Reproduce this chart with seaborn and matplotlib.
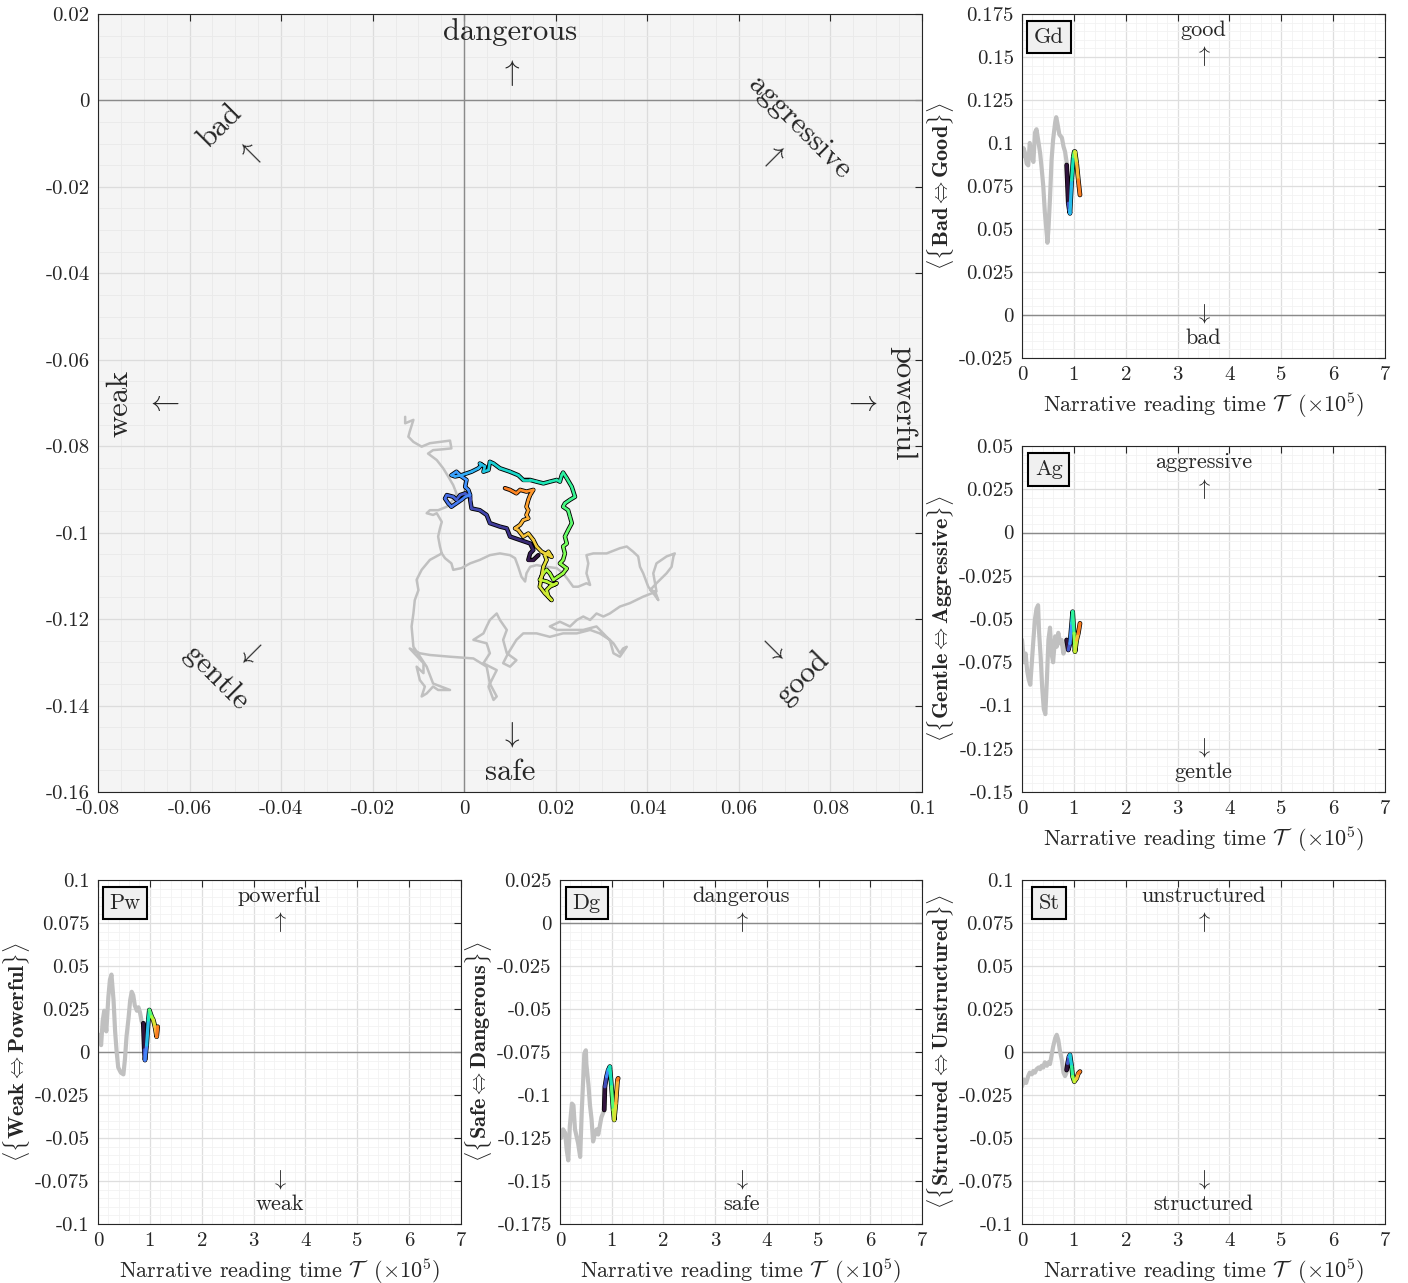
import numpy as np
import matplotlib
matplotlib.use("Agg")
import matplotlib.pyplot as plt
import seaborn as sns
from matplotlib.collections import LineCollection
from matplotlib.ticker import MultipleLocator, FuncFormatter

# ---------------- data ----------------
# main panel: grey trajectory (x = Weak<->Powerful, y = Safe<->Dangerous)
grey_pw = [-0.0129, -0.0129, -0.0111, -0.0119, -0.0122, -0.0111, -0.0093, -0.0075, -0.0053, -0.0031,
           -0.0028, -0.0046, -0.0068, -0.0079, -0.0060, -0.0046, -0.0035, -0.0024, -0.0017, -0.0024,
           -0.0038, -0.0057, -0.0075, -0.0082, -0.0068, -0.0060, -0.0049, -0.0053, -0.0057, -0.0053,
           -0.0049, -0.0042, -0.0028, -0.0024, -0.0006, 0.0013, 0.0034, 0.0056, 0.0078, 0.0100,
           0.0111, 0.0118, 0.0125, 0.0133, 0.0136, 0.0144, 0.0158, 0.0180, 0.0202, 0.0216,
           0.0227, 0.0238, 0.0249, 0.0267, 0.0275, 0.0267, 0.0271, 0.0267, 0.0282, 0.0311,
           0.0340, 0.0355, 0.0369, 0.0380, 0.0384, 0.0391, 0.0402, 0.0413, 0.0424, 0.0417,
           0.0406, 0.0420, 0.0442, 0.0453, 0.0457, 0.0460, 0.0442, 0.0420, 0.0413, 0.0420,
           0.0391, 0.0362, 0.0340, 0.0318, 0.0304, 0.0289, 0.0275, 0.0260, 0.0246, 0.0231,
           0.0209, 0.0187, 0.0202, 0.0231, 0.0260, 0.0289, 0.0311, 0.0326, 0.0340, 0.0347,
           0.0355, 0.0340, 0.0326, 0.0318, 0.0296, 0.0275, 0.0246, 0.0216, 0.0187, 0.0158,
           0.0129, 0.0114, 0.0096, 0.0085, 0.0100, 0.0114, 0.0093, 0.0085, 0.0093, 0.0078,
           0.0071, 0.0056, 0.0049, 0.0042, 0.0020, 0.0049, 0.0056, 0.0042, 0.0056, 0.0071,
           0.0064, 0.0053, 0.0064, 0.0071, 0.0056, 0.0049, 0.0020, -0.0031, -0.0075, -0.0097,
           -0.0119, -0.0089, -0.0089, -0.0104, -0.0097, -0.0086, -0.0093, -0.0082, -0.0068, -0.0057,
           -0.0031, -0.0068, -0.0082, -0.0111, -0.0115, -0.0111, -0.0108, -0.0100, -0.0104, -0.0093,
           -0.0075, -0.0049]
grey_dg = [-0.0732, -0.0747, -0.0739, -0.0766, -0.0778, -0.0790, -0.0801, -0.0793, -0.0790, -0.0787,
           -0.0805, -0.0807, -0.0809, -0.0817, -0.0832, -0.0851, -0.0870, -0.0890, -0.0909, -0.0924,
           -0.0940, -0.0948, -0.0948, -0.0955, -0.0959, -0.0955, -0.0975, -0.0990, -0.1009, -0.1032,
           -0.1048, -0.1059, -0.1071, -0.1086, -0.1082, -0.1071, -0.1063, -0.1052, -0.1048, -0.1052,
           -0.1059, -0.1079, -0.1102, -0.1113, -0.1094, -0.1079, -0.1075, -0.1079, -0.1082, -0.1094,
           -0.1109, -0.1125, -0.1125, -0.1117, -0.1121, -0.1094, -0.1071, -0.1052, -0.1048, -0.1048,
           -0.1036, -0.1032, -0.1044, -0.1055, -0.1079, -0.1094, -0.1125, -0.1140, -0.1156, -0.1136,
           -0.1133, -0.1117, -0.1094, -0.1079, -0.1055, -0.1048, -0.1055, -0.1071, -0.1094, -0.1136,
           -0.1148, -0.1163, -0.1171, -0.1187, -0.1194, -0.1187, -0.1202, -0.1194, -0.1202, -0.1217,
           -0.1206, -0.1217, -0.1225, -0.1225, -0.1225, -0.1217, -0.1241, -0.1256, -0.1279, -0.1268,
           -0.1264, -0.1287, -0.1279, -0.1248, -0.1233, -0.1225, -0.1233, -0.1233, -0.1241, -0.1233,
           -0.1233, -0.1248, -0.1279, -0.1302, -0.1310, -0.1295, -0.1279, -0.1248, -0.1225, -0.1202,
           -0.1187, -0.1202, -0.1217, -0.1233, -0.1248, -0.1256, -0.1279, -0.1302, -0.1310, -0.1318,
           -0.1333, -0.1356, -0.1387, -0.1379, -0.1349, -0.1310, -0.1291, -0.1287, -0.1283, -0.1279,
           -0.1268, -0.1302, -0.1325, -0.1310, -0.1341, -0.1356, -0.1379, -0.1372, -0.1356, -0.1364,
           -0.1364, -0.1349, -0.1310, -0.1264, -0.1217, -0.1187, -0.1156, -0.1133, -0.1109, -0.1086,
           -0.1063, -0.1048]

# main panel: coloured (recent) trajectory, in time order
col_pw = [0.0162, 0.0151, 0.0140, 0.0144, 0.0151, 0.0144, 0.0122, 0.0100, 0.0093, 0.0078,
          0.0056, 0.0049, 0.0034, 0.0016, 0.0013, 0.0013, 0.0002, -0.0009, -0.0017, -0.0024,
          -0.0038, -0.0042, -0.0035, -0.0028, -0.0017, -0.0006, 0.0002, 0.0013, 0.0009, 0.0002,
          0.0005, -0.0006, -0.0017, -0.0028, -0.0020, -0.0006, 0.0005, 0.0016, 0.0031, 0.0038,
          0.0034, 0.0045, 0.0042, 0.0053, 0.0056, 0.0064, 0.0078, 0.0100, 0.0118, 0.0129,
          0.0144, 0.0158, 0.0173, 0.0187, 0.0202, 0.0209, 0.0213, 0.0216, 0.0224, 0.0235,
          0.0242, 0.0231, 0.0220, 0.0216, 0.0227, 0.0231, 0.0235, 0.0227, 0.0220, 0.0224,
          0.0216, 0.0220, 0.0216, 0.0209, 0.0224, 0.0216, 0.0205, 0.0195, 0.0187, 0.0180,
          0.0173, 0.0165, 0.0180, 0.0195, 0.0202, 0.0187, 0.0180, 0.0184, 0.0191, 0.0176,
          0.0165, 0.0169, 0.0173, 0.0180, 0.0176, 0.0184, 0.0191, 0.0169, 0.0158, 0.0151,
          0.0140, 0.0129, 0.0118, 0.0111, 0.0122, 0.0129, 0.0140, 0.0136, 0.0140, 0.0136,
          0.0140, 0.0144, 0.0151, 0.0136, 0.0122, 0.0114, 0.0100, 0.0089]
col_dg = [-0.1052, -0.1063, -0.1063, -0.1048, -0.1040, -0.1025, -0.1017, -0.1009, -0.0990, -0.0986,
          -0.0978, -0.0959, -0.0948, -0.0944, -0.0924, -0.0917, -0.0909, -0.0913, -0.0924, -0.0917,
          -0.0913, -0.0921, -0.0932, -0.0940, -0.0932, -0.0924, -0.0917, -0.0913, -0.0901, -0.0894,
          -0.0878, -0.0870, -0.0859, -0.0867, -0.0870, -0.0867, -0.0863, -0.0859, -0.0851, -0.0843,
          -0.0840, -0.0847, -0.0859, -0.0855, -0.0836, -0.0840, -0.0851, -0.0859, -0.0867, -0.0878,
          -0.0878, -0.0882, -0.0886, -0.0882, -0.0878, -0.0882, -0.0867, -0.0861, -0.0874, -0.0894,
          -0.0917, -0.0924, -0.0932, -0.0940, -0.0948, -0.0963, -0.0978, -0.0994, -0.1009, -0.1025,
          -0.1032, -0.1048, -0.1063, -0.1071, -0.1083, -0.1094, -0.1102, -0.1109, -0.1094, -0.1086,
          -0.1094, -0.1109, -0.1113, -0.1121, -0.1117, -0.1125, -0.1133, -0.1148, -0.1156, -0.1140,
          -0.1125, -0.1102, -0.1079, -0.1063, -0.1052, -0.1044, -0.1056, -0.1044, -0.1032, -0.1017,
          -0.1002, -0.1009, -0.0994, -0.0990, -0.0982, -0.0971, -0.0967, -0.0959, -0.0948, -0.0940,
          -0.0924, -0.0913, -0.0901, -0.0905, -0.0901, -0.0909, -0.0901, -0.0897]

# time series panels (time in units of 1e5)
gd_t = [0.00, 0.03, 0.06, 0.09, 0.12, 0.15, 0.19, 0.22, 0.25, 0.28, 0.32, 0.35, 0.38, 0.41, 0.44,
        0.48, 0.49, 0.51, 0.54, 0.57, 0.60, 0.64, 0.66, 0.68, 0.72, 0.77, 0.80, 0.83, 0.87]
gd_v = [0.092, 0.097, 0.094, 0.088, 0.087, 0.100, 0.092, 0.089, 0.106, 0.108, 0.100, 0.094, 0.085,
        0.075, 0.060, 0.046, 0.042, 0.050, 0.068, 0.090, 0.102, 0.112, 0.115, 0.112, 0.105, 0.103,
        0.098, 0.095, 0.087]
gd_ct = [0.861, 0.893, 0.913, 0.925, 0.958, 0.990, 1.009, 1.022, 1.054, 1.086, 1.118]
gd_cv = [0.0872, 0.0649, 0.0610, 0.0591, 0.0785, 0.0921, 0.0950, 0.0950, 0.0882, 0.0785, 0.0698]

ag_t = [0.00, 0.04, 0.07, 0.10, 0.13, 0.16, 0.19, 0.22, 0.25, 0.28, 0.31, 0.33, 0.36, 0.39, 0.42,
        0.45, 0.48, 0.51, 0.54, 0.57, 0.60, 0.64, 0.67, 0.70, 0.73, 0.76, 0.80, 0.83, 0.86]
ag_v = [-0.062, -0.075, -0.070, -0.080, -0.085, -0.088, -0.075, -0.062, -0.050, -0.044, -0.042,
        -0.058, -0.072, -0.090, -0.102, -0.105, -0.085, -0.062, -0.055, -0.070, -0.075, -0.060,
        -0.066, -0.058, -0.064, -0.062, -0.070, -0.066, -0.062]
ag_ct = [0.861, 0.893, 0.925, 0.958, 0.977, 1.003, 1.022, 1.054, 1.086, 1.118]
ag_cv = [-0.0621, -0.0679, -0.0641, -0.0525, -0.0458, -0.0583, -0.0689, -0.0621, -0.0583, -0.0525]

pw_t = [0.02, 0.06, 0.09, 0.12, 0.16, 0.20, 0.23, 0.26, 0.30, 0.33, 0.36, 0.39, 0.44, 0.49, 0.52,
        0.55, 0.59, 0.62, 0.65, 0.68, 0.71, 0.75, 0.78, 0.81, 0.84, 0.87]
pw_v = [0.010, 0.004, 0.018, 0.024, 0.012, 0.032, 0.042, 0.045, 0.030, 0.012, 0.000, -0.009,
        -0.012, -0.013, -0.004, 0.009, 0.020, 0.030, 0.035, 0.033, 0.027, 0.024, 0.026, 0.023,
        0.018, 0.016]
pw_ct = [0.874, 0.893, 0.906, 0.938, 0.971, 0.990, 1.035, 1.067, 1.099, 1.131, 1.151]
pw_cv = [0.0167, 0.0012, -0.0047, 0.0040, 0.0186, 0.0244, 0.0205, 0.0186, 0.0147, 0.0089, 0.0147]

dg_t = [0.02, 0.06, 0.10, 0.13, 0.16, 0.19, 0.23, 0.26, 0.29, 0.32, 0.35, 0.39, 0.42, 0.45, 0.47,
        0.50, 0.51, 0.55, 0.58, 0.61, 0.64, 0.68, 0.71, 0.74, 0.77, 0.80, 0.84]
dg_v = [-0.125, -0.120, -0.122, -0.132, -0.138, -0.118, -0.105, -0.106, -0.120, -0.124, -0.128,
        -0.136, -0.110, -0.090, -0.076, -0.074, -0.082, -0.094, -0.106, -0.114, -0.127, -0.122,
        -0.120, -0.123, -0.118, -0.113, -0.110]
dg_ct = [0.855, 0.868, 0.900, 0.932, 0.964, 0.996, 1.028, 1.048, 1.080, 1.112, 1.125]
dg_cv = [-0.1087, -0.0952, -0.0893, -0.0855, -0.0835, -0.0952, -0.1087, -0.1145, -0.1048, -0.0913,
         -0.0903]

st_t = [0.00, 0.04, 0.08, 0.12, 0.15, 0.19, 0.22, 0.25, 0.28, 0.32, 0.35, 0.38, 0.41, 0.44, 0.48,
        0.51, 0.54, 0.57, 0.60, 0.64, 0.67, 0.70, 0.73, 0.77, 0.80, 0.83, 0.86]
st_v = [-0.020, -0.016, -0.018, -0.014, -0.012, -0.013, -0.011, -0.012, -0.010, -0.009, -0.010,
        -0.008, -0.009, -0.006, -0.008, -0.006, -0.007, -0.002, 0.003, 0.008, 0.010, 0.007, 0.001,
        -0.005, -0.012, -0.014, -0.012]
st_ct = [0.861, 0.880, 0.906, 0.925, 0.958, 0.977, 1.009, 1.054, 1.086, 1.118]
st_cv = [-0.0105, -0.0066, -0.0027, -0.0017, -0.0085, -0.0143, -0.0172, -0.0153, -0.0124, -0.0114]

panels = [
    # name, ylabel parts, top word, bottom word, ylim, t, v, ct, cv
    ("Gd", "Bad", "Good", "good", "bad", (-0.025, 0.175), gd_t, gd_v, gd_ct, gd_cv),
    ("Ag", "Gentle", "Aggressive", "aggressive", "gentle", (-0.15, 0.05), ag_t, ag_v, ag_ct, ag_cv),
    ("Pw", "Weak", "Powerful", "powerful", "weak", (-0.1, 0.1), pw_t, pw_v, pw_ct, pw_cv),
    ("Dg", "Safe", "Dangerous", "dangerous", "safe", (-0.175, 0.025), dg_t, dg_v, dg_ct, dg_cv),
    ("St", "Structured", "Unstructured", "unstructured", "structured", (-0.1, 0.1), st_t, st_v, st_ct, st_cv),
]

# ---------------- style ----------------
sns.set_theme(style="white")
plt.rcParams.update({
    "font.family": ["cmr10", "DejaVu Serif"],
    "mathtext.fontset": "cm",
    "axes.unicode_minus": False,
    "axes.formatter.use_mathtext": True,
    "axes.edgecolor": "#262626",
    "axes.linewidth": 0.8,
})

GREY = "#c0c0c0"
CMAP_MAX = 0.75


def fmt(v, pos):
    s = f"{v:.3f}".rstrip("0").rstrip(".")
    if s in ("-0", ""):
        s = "0"
    return s


def style_axes(ax, face, major_c, minor_c):
    ax.set_facecolor(face)
    ax.set_axisbelow(True)
    ax.grid(True, which="major", color=major_c, lw=0.9)
    ax.grid(True, which="minor", color=minor_c, lw=0.6)
    ax.tick_params(which="major", direction="in", length=5, width=0.8, top=True, right=True,
                   labelsize=15, colors="#262626", pad=6)
    ax.tick_params(which="minor", length=0, top=True, right=True)
    for s in ax.spines.values():
        s.set_color("#262626")
        s.set_linewidth(0.8)
    ax.xaxis.set_major_formatter(FuncFormatter(fmt))
    ax.yaxis.set_major_formatter(FuncFormatter(fmt))


def coloured(ax, x, y, lw, edge):
    x = np.asarray(x)
    y = np.asarray(y)
    sns.lineplot(x=x, y=y, sort=False, estimator=None, color="black", lw=lw + edge, ax=ax,
                 zorder=3, solid_capstyle="round", solid_joinstyle="round")
    pts = np.column_stack([x, y]).reshape(-1, 1, 2)
    segs = np.concatenate([pts[:-1], pts[1:]], axis=1)
    lc = LineCollection(segs, cmap="turbo", norm=plt.Normalize(0, 1), linewidths=lw,
                        capstyle="round", joinstyle="round", zorder=4)
    lc.set_array(np.linspace(0, CMAP_MAX, len(segs)))
    ax.add_collection(lc)


W, H = 1408, 1283
fig = plt.figure(figsize=(W / 100, H / 100), dpi=100)


def box(x0, y0, x1, y1):
    return [x0 / W, 1 - y1 / H, (x1 - x0) / W, (y1 - y0) / H]


# ---------------- main panel ----------------
ax = fig.add_axes(box(98, 14, 922, 792))
style_axes(ax, "#f4f4f4", "#dcdcdc", "#e9e9e9")
ax.set_xlim(-0.08, 0.1)
ax.set_ylim(-0.16, 0.02)
ax.xaxis.set_major_locator(MultipleLocator(0.02))
ax.yaxis.set_major_locator(MultipleLocator(0.02))
ax.xaxis.set_minor_locator(MultipleLocator(0.005))
ax.yaxis.set_minor_locator(MultipleLocator(0.005))
ax.axhline(0, color="#8a8a8a", lw=1.0, zorder=1)
ax.axvline(0, color="#8a8a8a", lw=1.0, zorder=1)
sns.lineplot(x=grey_pw, y=grey_dg, sort=False, estimator=None, color=GREY, lw=1.8, ax=ax, zorder=2)
coloured(ax, col_pw, col_dg, 1.9, 1.3)

LBL = 22
ARW = 21
ax.text(0.01, 0.0158, "dangerous", ha="center", va="center", fontsize=LBL)
ax.text(0.01, 0.0063, r"$\uparrow$", ha="center", va="center", fontsize=ARW)
ax.text(0.01, -0.1554, "safe", ha="center", va="center", fontsize=LBL)
ax.text(0.01, -0.1468, r"$\downarrow$", ha="center", va="center", fontsize=ARW)
ax.text(-0.0752, -0.0700, "weak", ha="center", va="center", fontsize=LBL, rotation=90)
ax.text(-0.0660, -0.0700, r"$\leftarrow$", ha="center", va="center", fontsize=ARW)
ax.text(0.0958, -0.0700, "powerful", ha="center", va="center", fontsize=LBL, rotation=-90)
ax.text(0.0865, -0.0700, r"$\rightarrow$", ha="center", va="center", fontsize=ARW)
ax.text(-0.0534, -0.0060, "bad", ha="center", va="center", fontsize=LBL, rotation=45)
ax.text(-0.0468, -0.0126, r"$\uparrow$", ha="center", va="center", fontsize=ARW, rotation=45)
ax.text(0.0733, -0.0064, "aggressive", ha="center", va="center", fontsize=LBL, rotation=-45)
ax.text(0.0672, -0.0126, r"$\uparrow$", ha="center", va="center", fontsize=ARW, rotation=-45)
ax.text(-0.0542, -0.1336, "gentle", ha="center", va="center", fontsize=LBL, rotation=-45)
ax.text(-0.0468, -0.1274, r"$\downarrow$", ha="center", va="center", fontsize=ARW, rotation=-45)
ax.text(0.0738, -0.1336, "good", ha="center", va="center", fontsize=LBL, rotation=45)
ax.text(0.0672, -0.1274, r"$\downarrow$", ha="center", va="center", fontsize=ARW, rotation=45)

# ---------------- time series panels ----------------
rects = {
    "Gd": (1022, 14, 1385, 358),
    "Ag": (1022, 446, 1385, 792),
    "Pw": (98, 880, 461, 1224),
    "Dg": (560, 880, 922, 1224),
    "St": (1022, 880, 1385, 1224),
}

for name, lo, hi, topw, botw, ylim, t, v, ct, cv in panels:
    a = fig.add_axes(box(*rects[name]))
    style_axes(a, "white", "#dedede", "#f2f2f2")
    a.set_xlim(0, 7)
    a.set_ylim(*ylim)
    a.xaxis.set_major_locator(MultipleLocator(1))
    a.xaxis.set_minor_locator(MultipleLocator(0.2))
    a.yaxis.set_major_locator(MultipleLocator(0.025))
    a.yaxis.set_minor_locator(MultipleLocator(0.005))
    a.axhline(0, color="#8a8a8a", lw=1.0, zorder=1)
    sns.lineplot(x=t, y=v, sort=False, estimator=None, color=GREY, lw=3.0, ax=a, zorder=2)
    coloured(a, ct, cv, 2.4, 1.0)
    a.set_xlabel(r"Narrative reading time $\mathcal{T}\ \ (\times10^5)$", fontsize=16, labelpad=4)
    a.set_ylabel(r"$\langle\{\mathbf{" + lo + r"}{\Leftrightarrow}\mathbf{" + hi + r"}\}\rangle$",
                 fontsize=16, labelpad=2)
    a.text(0.5, 0.953, topw, transform=a.transAxes, ha="center", va="center", fontsize=16)
    a.text(0.5, 0.877, r"$\uparrow$", transform=a.transAxes, ha="center", va="center", fontsize=16)
    a.text(0.5, 0.130, r"$\downarrow$", transform=a.transAxes, ha="center", va="center", fontsize=16)
    a.text(0.5, 0.057, botw, transform=a.transAxes, ha="center", va="center", fontsize=16)
    a.text(0.074, 0.933, name, transform=a.transAxes, ha="center", va="center", fontsize=16,
           bbox=dict(boxstyle="square,pad=0.3", fc="#f0f0f0", ec="black", lw=1.5))

fig.savefig("out.png", dpi=100)
